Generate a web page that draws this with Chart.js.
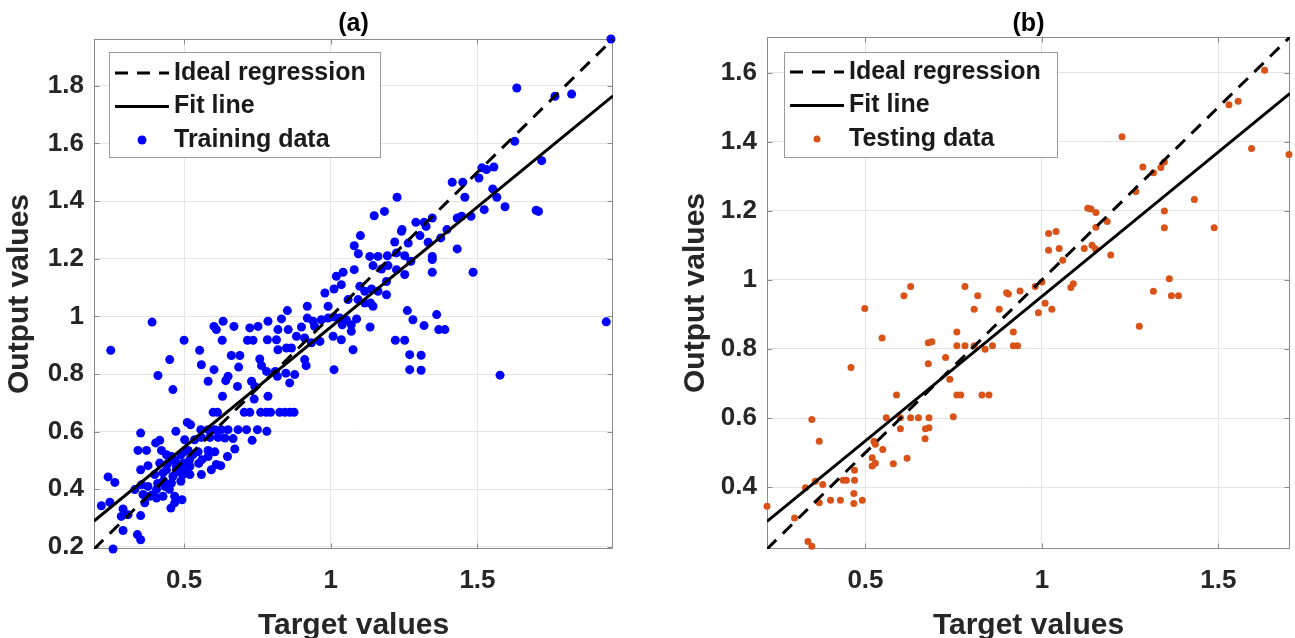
<!DOCTYPE html>
<html>
<head>
<meta charset="utf-8">
<script src="https://cdn.jsdelivr.net/npm/chart.js@4.4.1/dist/chart.umd.min.js"></script>
<style>
  body { margin: 0; background: #fff; }
  #wrapA { position: absolute; left: 0; top: 0; }
  #wrapB { position: absolute; left: 645px; top: 0; }
</style>
</head>
<body>
<div id="wrapA"><canvas id="chartA" width="645" height="638"></canvas></div>
<div id="wrapB"><canvas id="chartB" width="650" height="638"></canvas></div>
<script>
// (a) training set, [target, output]
var trainPoints = [
  [1.101,1.280],[1.241,1.295],[1.080,1.245],[1.094,1.217],[1.218,1.258],[1.264,1.254],[1.133,1.208],[1.161,1.208],
  [1.193,1.210],[1.224,1.220],[1.252,1.210],[1.144,1.176],[1.173,1.164],[1.195,1.176],[1.224,1.162],[1.252,1.145],
  [1.080,1.162],[1.190,1.121],[1.273,1.191],[1.019,1.139],[1.042,1.153],[1.036,1.110],[1.011,1.095],[0.980,1.081],
  [1.099,1.104],[1.116,1.087],[1.139,1.095],[1.161,1.087],[1.190,1.075],[1.059,1.058],[1.093,1.058],[1.116,1.046],
  [1.136,1.046],[1.144,1.035],[0.991,1.035],[0.920,1.035],[0.852,1.020],[1.261,1.020],[1.280,0.988],[0.832,0.991],
  [0.786,0.983],[0.920,0.994],[0.940,0.983],[0.968,0.988],[0.991,0.994],[1.011,0.998],[1.031,0.994],[1.053,0.988],
  [1.088,0.991],[0.900,0.963],[0.945,0.965],[1.039,0.971],[1.070,0.971],[1.134,0.963],[0.820,0.954],[0.855,0.954],
  [0.883,0.931],[0.911,0.925],[0.934,0.908],[0.963,0.913],[1.008,0.931],[1.036,0.919],[1.070,0.948],[1.076,0.884],
  [1.220,0.917],[1.252,0.917],[1.269,0.867],[1.269,0.815],[1.011,0.815],[0.784,0.919],[0.815,0.919],[0.849,0.890],
  [0.866,0.890],[0.820,0.884],[0.758,0.852],[0.764,0.829],[0.781,0.809],[0.811,0.809],[0.847,0.803],[0.877,0.798],
  [0.911,0.850],[0.916,0.829],[0.860,0.769],[0.818,0.792],[0.730,0.775],[0.741,0.757],[0.786,0.723],[0.739,0.713],
  [0.724,0.667],[0.705,0.667],[0.599,0.667],[0.614,0.667],[0.761,0.667],[0.780,0.667],[0.795,0.667],[0.826,0.667],
  [0.843,0.667],[0.860,0.667],[0.875,0.667],[0.602,0.965],[0.610,0.954],[0.633,0.983],[0.670,0.965],[0.724,0.960],
  [0.752,0.965],[0.716,0.917],[0.735,0.917],[0.630,0.917],[0.661,0.864],[0.690,0.864],[0.553,0.882],[0.559,0.832],
  [0.500,0.917],[0.602,0.815],[0.686,0.824],[0.582,0.775],[0.642,0.777],[0.650,0.792],[0.682,0.757],[0.631,0.723],
  [0.391,0.980],[0.250,0.882],[0.451,0.850],[0.411,0.795],[0.462,0.746],[0.511,0.632],[0.522,0.624],[0.557,0.607],
  [0.582,0.607],[0.605,0.607],[0.627,0.607],[0.650,0.607],[0.684,0.607],[0.713,0.607],[0.750,0.607],[0.782,0.601],
  [0.732,0.570],[0.673,0.540],[0.648,0.514],[0.472,0.601],[0.352,0.595],[0.417,0.570],[0.403,0.561],[0.343,0.535],
  [0.372,0.535],[0.423,0.535],[0.502,0.572],[0.536,0.572],[0.559,0.580],[0.588,0.580],[0.616,0.580],[0.639,0.578],
  [0.667,0.576],[0.514,0.535],[0.548,0.530],[0.582,0.535],[0.605,0.530],[0.457,0.514],[0.489,0.520],[0.519,0.503],
  [0.445,0.491],[0.474,0.480],[0.497,0.491],[0.561,0.503],[0.582,0.514],[0.610,0.486],[0.625,0.482],[0.417,0.491],
  [0.377,0.482],[0.352,0.468],[0.400,0.451],[0.428,0.457],[0.462,0.445],[0.489,0.428],[0.520,0.451],[0.559,0.451],
  [0.593,0.468],[0.440,0.468],[0.474,0.468],[0.497,0.451],[0.457,0.422],[0.241,0.443],[0.264,0.424],[0.332,0.399],
  [0.355,0.416],[0.377,0.410],[0.406,0.399],[0.434,0.410],[0.360,0.382],[0.383,0.376],[0.406,0.370],[0.428,0.376],
  [0.468,0.376],[0.493,0.364],[0.455,0.335],[0.468,0.353],[0.366,0.353],[0.218,0.343],[0.247,0.355],[0.292,0.332],
  [0.309,0.312],[0.286,0.306],[0.352,0.309],[0.292,0.257],[0.341,0.243],[0.352,0.225],[0.258,0.193],
  [0.430,0.430],[0.450,0.400],[0.470,0.500],[0.500,0.470],[0.520,0.480],[0.480,0.460],[0.410,0.420],[0.440,0.520],
  [0.530,0.520],[0.390,0.380],[0.500,0.530],[0.550,0.490],
  [1.955,1.962],[1.634,1.792],[1.764,1.763],[1.821,1.771],[1.627,1.607],[1.719,1.540],[1.708,1.364],[1.700,1.368],
  [1.505,1.480],[1.515,1.515],[1.531,1.509],[1.556,1.518],[1.414,1.465],[1.450,1.465],[1.457,1.413],[1.552,1.442],
  [1.566,1.413],[1.594,1.380],[1.523,1.370],[1.446,1.347],[1.431,1.341],[1.478,1.347],[1.396,1.301],[1.375,1.272],
  [1.431,1.234],[1.485,1.153],[1.226,1.413],[1.148,1.349],[1.183,1.364],[1.243,1.301],[1.290,1.326],[1.318,1.326],
  [1.346,1.341],[1.325,1.312],[1.304,1.280],[1.332,1.257],[1.346,1.208],[1.346,1.197],[1.346,1.153],[1.361,1.006],
  [1.939,0.981],[1.577,0.796],[1.308,0.865],[1.308,0.813],[1.318,0.968],[1.368,0.954],[1.389,0.954]
];
// (b) testing set, [target, output]
var testPoints = [
  [1.130,1.207],[1.139,1.205],[1.153,1.195],[1.019,1.134],[1.040,1.140],[1.019,1.086],[1.049,1.091],[1.120,1.091],
  [1.142,1.100],[1.152,1.089],[1.059,1.057],[1.153,1.152],[1.082,0.978],[1.089,0.989],[1.000,0.994],[0.981,0.981],
  [1.009,0.932],[0.990,0.905],[1.028,0.915],[0.938,0.968],[0.900,0.963],[0.905,0.959],[0.879,0.915],[0.782,0.981],
  [0.818,0.954],[0.808,0.915],[0.628,0.981],[0.609,0.954],[0.498,0.917],[0.547,0.832],[0.459,0.746],[0.678,0.818],
  [0.688,0.821],[0.678,0.757],[0.727,0.775],[0.759,0.849],[0.759,0.809],[0.782,0.809],[0.808,0.809],[0.839,0.799],
  [0.860,0.809],[0.919,0.849],[0.919,0.809],[0.931,0.809],[0.739,0.712],[0.759,0.667],[0.770,0.667],[0.830,0.667],
  [0.850,0.667],[0.749,0.604],[0.588,0.667],[0.559,0.601],[0.599,0.601],[0.628,0.601],[0.650,0.601],[0.680,0.601],
  [0.599,0.569],[0.670,0.569],[0.680,0.572],[0.669,0.540],[0.524,0.533],[0.528,0.524],[0.549,0.509],[0.519,0.485],
  [0.519,0.461],[0.528,0.469],[0.579,0.468],[0.618,0.484],[0.348,0.596],[0.369,0.533],[0.358,0.417],[0.379,0.408],
  [0.330,0.398],[0.437,0.420],[0.446,0.420],[0.469,0.420],[0.469,0.449],[0.467,0.382],[0.467,0.353],[0.491,0.362],
  [0.429,0.362],[0.401,0.362],[0.369,0.355],[0.221,0.345],[0.299,0.311],[0.337,0.243],[0.348,0.229],
  [1.631,1.607],[1.530,1.507],[1.556,1.517],[1.594,1.380],[1.700,1.363],[1.227,1.414],[1.286,1.327],[1.316,1.310],
  [1.337,1.325],[1.347,1.341],[1.266,1.256],[1.432,1.233],[1.347,1.199],[1.347,1.151],[1.488,1.151],[1.361,1.003],
  [1.316,0.967],[1.367,0.954],[1.387,0.954],[1.185,1.169],[1.195,1.072],[1.276,0.866]
];

// axis limits and ticks
var rangeA = [0.193, 1.962];
var rangeB = [0.221, 1.703];
var xTicksA = [0.5, 1, 1.5];
var yTicksA = [0.2, 0.4, 0.6, 0.8, 1, 1.2, 1.4, 1.6, 1.8];
var xTicksB = [0.5, 1, 1.5];
var yTicksB = [0.4, 0.6, 0.8, 1, 1.2, 1.4, 1.6];

// line end points [x, y]
var idealA = [[0.193, 0.193], [1.962, 1.962]];
var fitA = [[0.193, 0.290], [1.962, 1.765]];
var idealB = [[0.221, 0.221], [1.703, 1.703]];
var fitB = [[0.221, 0.301], [1.703, 1.540]];

var FONT = '"Liberation Sans", Arial, Helvetica, sans-serif';
Chart.defaults.font.family = FONT;
Chart.defaults.font.weight = 'bold';
Chart.defaults.color = '#262626';

function toXY(list) {
  return list.map(function (p) { return {x: p[0], y: p[1]}; });
}

// axes box + inward tick marks (matlab style)
var framePlugin = {
  id: 'frame',
  beforeDatasetsDraw: function (chart) {
    var a = chart.chartArea, ctx = chart.ctx;
    var xs = chart.scales.x, ys = chart.scales.y;
    var l = Math.round(a.left) + 0.5, r = Math.round(a.right) - 0.5;
    var t = Math.round(a.top) + 0.5, b = Math.round(a.bottom) - 0.5;
    ctx.save();
    ctx.strokeStyle = '#8c8c8c';
    ctx.lineWidth = 1;
    ctx.strokeRect(l, t, r - l, b - t);
    ctx.beginPath();
    xs.ticks.forEach(function (tk) {
      var px = Math.round(xs.getPixelForValue(tk.value)) + 0.5;
      ctx.moveTo(px, b); ctx.lineTo(px, b - 5);
      ctx.moveTo(px, t); ctx.lineTo(px, t + 5);
    });
    ys.ticks.forEach(function (tk) {
      var py = Math.round(ys.getPixelForValue(tk.value)) + 0.5;
      ctx.moveTo(l, py); ctx.lineTo(l + 5, py);
      ctx.moveTo(r, py); ctx.lineTo(r - 5, py);
    });
    ctx.stroke();
    ctx.restore();
  }
};

// legend box inside the top-left corner of the axes
var boxLegend = {
  id: 'boxLegend',
  afterDatasetsDraw: function (chart, args, opts) {
    var ctx = chart.ctx, area = chart.chartArea;
    var x0 = Math.round(area.left + opts.x), y0 = Math.round(area.top + opts.y);
    ctx.save();
    ctx.fillStyle = '#fff';
    ctx.fillRect(x0, y0, opts.w, opts.h);
    ctx.strokeStyle = '#9a9a9a';
    ctx.lineWidth = 1;
    ctx.strokeRect(x0 + 0.5, y0 + 0.5, opts.w, opts.h);
    ctx.font = 'bold 25px ' + FONT;
    ctx.textBaseline = 'middle';
    chart.data.datasets.forEach(function (ds, i) {
      var cy = y0 + opts.row0 + i * opts.rowGap;
      if (ds.showLine) {
        ctx.beginPath();
        ctx.setLineDash(ds.borderDash || []);
        ctx.strokeStyle = ds.borderColor;
        ctx.lineWidth = ds.borderWidth;
        ctx.moveTo(x0 + 6, cy);
        ctx.lineTo(x0 + 60, cy);
        ctx.stroke();
        ctx.setLineDash([]);
      } else {
        ctx.beginPath();
        ctx.fillStyle = ds.backgroundColor;
        ctx.arc(x0 + 33, cy, ds.pointRadius, 0, Math.PI * 2);
        ctx.fill();
      }
      ctx.fillStyle = '#1a1a1a';
      ctx.fillText(ds.label, x0 + 65, cy);
    });
    ctx.restore();
  }
};

function makePanel(id, p) {
  var tickFont = {size: 26, weight: 'bold'};
  var titleFont = {size: 30, weight: 'bold'};
  return new Chart(document.getElementById(id), {
    type: 'scatter',
    data: {
      datasets: [
        {label: 'Ideal regression', data: toXY(p.ideal), showLine: true, borderColor: '#000',
         borderWidth: 3, borderDash: [13, 9], pointRadius: 0},
        {label: 'Fit line', data: toXY(p.fit), showLine: true, borderColor: '#000',
         borderWidth: 3, pointRadius: 0},
        {label: p.dataLabel, data: toXY(p.points), backgroundColor: p.color, borderColor: p.color,
         borderWidth: 0, pointRadius: p.radius, clip: false}
      ]
    },
    options: {
      responsive: false,
      animation: false,
      events: [],
      layout: {padding: {left: 0, right: p.padRight, top: 0, bottom: 0}},
      plugins: {
        legend: {display: false},
        tooltip: {enabled: false},
        title: {display: true, text: p.title, fullSize: false, color: '#000',
                font: {size: 25, weight: 'bold', lineHeight: 1.2}, padding: p.titlePad},
        boxLegend: p.legend
      },
      scales: {
        x: {
          type: 'linear', min: p.range[0], max: p.range[1],
          afterBuildTicks: function (s) { s.ticks = p.xTicks.map(function (v) { return {value: v}; }); },
          afterFit: function (s) { s.height = 89; },
          ticks: {font: tickFont, color: '#262626', padding: 16, callback: function (v) { return String(v); }},
          grid: {color: '#e4e4e4', drawTicks: false},
          border: {display: false},
          title: {display: true, text: 'Target values', color: '#262626',
                  font: {size: 30, weight: 'bold', lineHeight: 0.8}, padding: {top: 0, bottom: 0}}
        },
        y: {
          type: 'linear', min: p.range[0], max: p.range[1],
          afterBuildTicks: function (s) { s.ticks = p.yTicks.map(function (v) { return {value: v}; }); },
          afterFit: function (s) { s.width = p.yWidth; },
          ticks: {font: tickFont, color: '#262626', padding: 10, callback: function (v) { return String(v); }},
          grid: {color: '#e4e4e4', drawTicks: false},
          border: {display: false},
          title: {display: true, text: 'Output values', color: '#262626',
                  font: {size: 30, weight: 'bold', lineHeight: 1.2}, padding: {top: p.yTitlePad, bottom: 0}}
        }
      }
    },
    plugins: [framePlugin, boxLegend]
  });
}

makePanel('chartA', {
  title: '(a)', points: trainPoints, dataLabel: 'Training data', color: '#0000ff', radius: 4.5,
  ideal: idealA, fit: fitA, range: rangeA, xTicks: xTicksA, yTicks: yTicksA,
  yWidth: 94, padRight: 32, yTitlePad: 2, titlePad: {top: 9, bottom: 0},
  legend: {x: 15, y: 13, w: 271, h: 105, row0: 21, rowGap: 33.5}
});

makePanel('chartB', {
  title: '(b)', points: testPoints, dataLabel: 'Testing data', color: '#d95319', radius: 3.5,
  ideal: idealB, fit: fitB, range: rangeB, xTicks: xTicksB, yTicks: yTicksB,
  yWidth: 122, padRight: 5, yTitlePad: 33, titlePad: {top: 9, bottom: -2},
  legend: {x: 17, y: 15, w: 273, h: 105, row0: 20, rowGap: 33.5}
});
</script>
</body>
</html>
